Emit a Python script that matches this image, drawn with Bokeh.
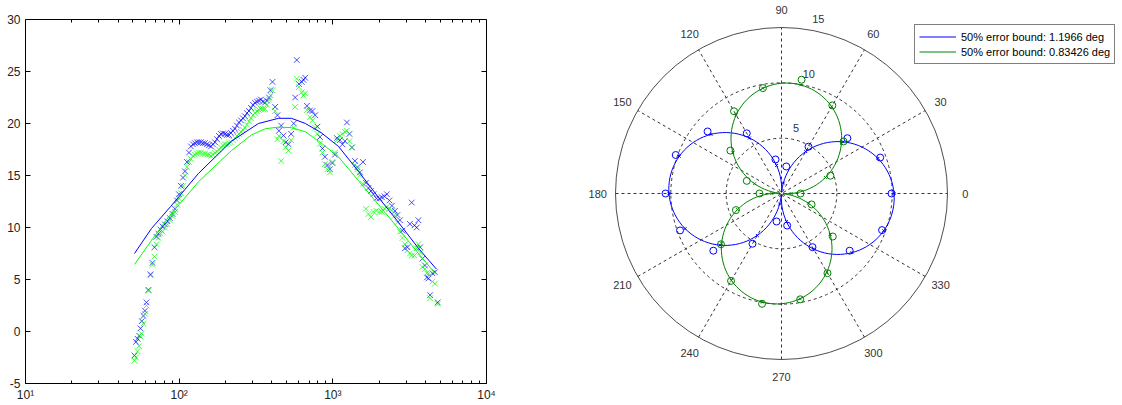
import math
from bokeh.plotting import figure
from bokeh.models import (Range1d, FixedTicker, LogAxis, LinearAxis, ColumnDataSource,
                          CustomJSTickFormatter, Legend, LegendItem, LabelSet)
from bokeh.layouts import row
from bokeh.embed import file_html
from bokeh.resources import INLINE
from bokeh.core.properties import value

# ---------------- data: left panel (frequency response) ----------------
freq_hz = [51.2, 52.4, 53.6, 54.9, 56.0, 57.1, 58.6, 59.9, 61.3, 63.1,
           65.1, 67.0, 69.1, 71.2, 73.3, 75.6, 77.9, 80.8, 83.9, 87.1,
           90.5, 93.9, 96.8, 99.7, 102.7, 105.9, 109.1, 112.4, 115.8, 119.3,
           123.0, 126.7, 130.6, 134.5, 138.6, 142.8, 147.2, 151.7, 156.3, 161.0,
           165.9, 171.0, 176.2, 181.5, 187.1, 192.8, 198.6, 204.6, 210.9, 217.3,
           223.9, 230.7, 237.7, 245.0, 252.4, 260.1, 268.0, 276.2, 284.6, 293.2,
           302.1, 311.3, 320.8, 330.6, 340.6, 351.0, 361.7, 372.7, 384.0, 392.7,
           404.7, 421.3, 436.1, 446.0, 461.0, 477.1, 493.8, 514.2, 535.4, 556.7,
           568.5, 582.3, 601.8, 627.6, 643.8, 660.4, 678.5, 709.7, 736.8, 767.2,
           794.1, 824.4, 855.9, 888.6, 922.4, 957.6, 994.0, 1032, 1063, 1112,
           1155, 1199, 1235, 1283, 1331, 1392, 1446, 1501, 1570, 1642,
           1705, 1770, 1838, 1922, 2010, 2087, 2167, 2249, 2335, 2424,
           2535, 2632, 2733, 2837, 2945, 3058, 3174, 3261, 3396, 3515,
           3606, 3698, 3828, 3974, 4095, 4188, 4296, 4447, 4617, 4815]

blue_meas = [-2.3, -1.0, -0.7, -0.4, 0.3, 1.0, 1.5, 2.0, 2.8, 4.0,
             5.5, 6.6, 8.1, 9.1, 9.4, 9.8, 10.1, 10.3, 10.6, 10.9,
             11.3, 11.8, 12.6, 13.2, 14.0, 14.8, 15.4, 16.3, 17.2, 17.8,
             18.0, 18.1, 18.2, 18.2, 18.2, 18.1, 18.1, 18.0, 17.9, 17.8,
             18.0, 18.2, 18.5, 18.8, 19.0, 19.05, 19.0, 18.9, 18.9, 19.1,
             19.3, 19.5, 19.8, 20.1, 20.3, 20.5, 20.7, 21.0, 21.2, 21.5,
             21.8, 22.0, 22.1, 22.2, 22.3, 22.1, 22.0, 22.2, 22.5, 23.2,
             24.0, 21.6, 20.8, 19.3, 19.8, 18.85, 18.2, 18.0, 19.0, 20.0,
             22.5, 26.1, 23.8, 24.0, 24.2, 24.4, 21.7, 21.25, 21.2, 20.8,
             19.7, 18.7, 17.6, 16.8, 16.0, 15.6, 16.2, 17.0, 18.6, 18.4,
             18.0, 18.3, 20.1, 19.0, 17.7, 16.4, 15.8, 15.3, 16.3, 14.3,
             13.8, 13.5, 13.2, 12.8, 12.8, 12.9, 13.0, 13.2, 12.6, 12.1,
             11.6, 11.2, 10.7, 9.7, 8.0, 8.1, 10.35, 12.4, 10.2, 10.0,
             10.7, 8.1, 7.0, 6.35, 5.2, 5.1, 3.5, 5.6, 5.7, 2.8]

green_meas = [-2.8, -2.5, -1.9, -1.4, -0.5, -0.2, 0.75, 1.7, 2.5, 3.9,
              5.4, 6.4, 7.2, 8.4, 9.0, 9.4, 9.6, 10.0, 10.3, 10.7,
              11.1, 11.5, 12.2, 12.8, 13.3, 14.0, 15.0, 15.8, 16.3, 16.6,
              16.9, 17.0, 17.1, 17.2, 17.2, 17.1, 17.1, 17.0, 17.0, 16.9,
              17.0, 17.2, 17.3, 17.5, 17.7, 17.9, 18.0, 18.0, 18.1, 18.2,
              18.4, 18.6, 18.8, 19.0, 19.2, 19.4, 19.6, 19.9, 20.2, 20.5,
              20.8, 21.0, 21.2, 21.3, 21.4, 21.4, 21.4, 21.8, 22.3, 22.7,
              23.2, 21.2, 18.5, 18.8, 16.4, 18.3, 17.7, 17.4, 18.4, 19.6,
              21.6, 24.3, 23.5, 23.0, 22.7, 22.9, 21.3, 20.6, 20.3, 19.6,
              19.0, 18.05, 17.2, 16.1, 15.6, 15.3, 16.3, 17.2, 18.4, 18.8,
              19.0, 19.2, 19.3, 18.3, 17.7, 16.0, 15.6, 15.0, 14.2, 11.8,
              11.3, 11.0, 11.5, 11.6, 11.5, 11.5, 11.8, 12.0, 11.8, 11.65,
              11.15, 10.5, 9.6, 9.0, 8.4, 7.8, 7.5, 7.3, 7.3, 8.0,
              8.4, 7.6, 6.2, 6.0, 5.6, 5.55, 3.2, 4.8, 4.6, 2.65]

blue_fit_hz = [51.2, 66.0, 87.8, 133.6, 218.9, 328.0, 442.8, 537.8,
               663.4, 843.0, 1087.5, 1468, 1980, 2672, 3606, 4722]
blue_fit_val = [7.5, 9.9, 12.0, 15.2, 18.3, 20.0, 20.5, 20.5,
                20.0, 19.1, 17.8, 15.4, 12.9, 10.5, 8.0, 6.0]

green_fit_hz = [51.2, 66.0, 85.2, 133.6, 218.9, 295.4, 364.3, 442.8, 537.8,
                663.4, 843.0, 1087.5, 1468, 1980, 2672, 3606, 4651]
green_fit_val = [6.45, 8.75, 11.0, 14.4, 17.4, 18.9, 19.5, 19.65, 19.6,
                 19.2, 18.1, 16.8, 14.5, 12.2, 9.9, 7.5, 5.55]

x_major = [10, 100, 1000, 10000]
y_major = [-5, 0, 5, 10, 15, 20, 25, 30]

# ---------------- data: right panel (polar) ----------------
angles_deg = [0, 20, 40, 60, 80, 100, 120, 140, 160,
              180, 200, 220, 240, 260, 280, 300, 320, 340]
blue_r = [9.94, 9.49, 7.77, 4.88, 2.48, 3.12, 6.28, 8.72, 10.17,
          10.48, 9.76, 8.04, 5.24, 2.57, 2.94, 5.60, 8.04, 9.67]
green_r = [1.72, 4.70, 7.32, 9.19, 10.44, 9.67, 8.58, 6.03, 3.34,
           1.99, 4.38, 7.14, 9.12, 10.12, 9.71, 8.31, 6.05, 2.89]
blue_fit_diam, blue_fit_rot = 10.2, 4.6      # r = d*|cos(theta + rot)|
green_fit_diam, green_fit_rot = 10.0, 5.0    # r = d*|sin(theta + rot)|
ring_values = [5, 10, 15]
spoke_angles = [0, 30, 60, 90, 120, 150, 180, 210, 240, 270, 300, 330]
legend_labels = ["50% error bound: 1.1966 deg", "50% error bound: 0.83426 deg"]

FONT = "Liberation Sans"
TXT = "#222222"

# layout constants (pixels); the row aligns both frames: 0..383
HEIGHT, BOTTOM = 405, 22
FH = HEIGHT - BOTTOM          # frame height of both figures
PX_PER_UNIT_Y = 364 / 35.0    # left panel: -5..30 spans 364 px
BOX_TOP_PX = 19               # the axes box starts 19 px below the top

# ================= left figure =================
p = figure(x_axis_type="log", x_range=Range1d(10, 10000),
           y_range=Range1d(-5, 30 + BOX_TOP_PX / PX_PER_UNIT_Y),
           frame_width=461, frame_height=FH,
           min_border_left=25, min_border_right=54, min_border_top=0, min_border_bottom=BOTTOM,
           output_backend="svg", toolbar_location=None)
p.xgrid.visible = False
p.ygrid.visible = False
p.outline_line_color = None
p.background_fill_color = "white"

minor = [m * d for d in [10, 100, 1000] for m in range(2, 10)]
xticker = FixedTicker(ticks=x_major, minor_ticks=minor)
yticker = FixedTicker(ticks=y_major, minor_ticks=[])
sup_fmt = CustomJSTickFormatter(code="""
const e = Math.round(Math.log10(tick));
const sup = {1: '\u00b9', 2: '\u00b2', 3: '\u00b3', 4: '\u2074'};
return '10' + (sup[e] || '');
""")


def style_axis(ax, labels=True):
    ax.axis_line_color = "black"
    ax.major_tick_line_color = "black"
    ax.minor_tick_line_color = "black"
    ax.major_tick_in = 5
    ax.major_tick_out = 0
    ax.minor_tick_in = 3
    ax.minor_tick_out = 0
    if labels:
        ax.major_label_text_font = FONT
        ax.major_label_text_font_size = "12px"
        ax.major_label_text_color = TXT
    else:
        ax.major_label_text_font_size = "1px"
        ax.major_label_text_alpha = 0
        ax.major_label_standoff = 0


xb = p.xaxis[0]
xb.ticker = xticker
xb.formatter = sup_fmt
style_axis(xb)
xb.major_label_standoff = 4

yl = p.yaxis[0]
yl.ticker = yticker
yl.bounds = (-5, 30)
yl.major_label_overrides = {v: str(v) for v in y_major}
style_axis(yl)
yl.major_label_standoff = 5

xt = LogAxis(ticker=xticker, fixed_location=30)
style_axis(xt, labels=False)
p.add_layout(xt, "above")
yr = LinearAxis(ticker=yticker, bounds=(-5, 30))
style_axis(yr, labels=False)
p.add_layout(yr, "right")

p.scatter(freq_hz, blue_meas, marker="x", size=8, line_color="blue", line_alpha=0.7, line_width=1)
p.scatter(freq_hz, green_meas, marker="x", size=8, line_color="#00ff00", line_alpha=0.7, line_width=1)
p.line(blue_fit_hz, blue_fit_val, line_color="blue", line_width=1)
p.line(green_fit_hz, green_fit_val, line_color="#00ff00", line_width=1)

# ================= right figure (polar) =================
W = 578
cx, cy = 241, 193            # centre in frame pixels (from frame top-left)
s = 166 / 15.0               # pixels per radial unit
q = figure(width=W, height=HEIGHT,
           x_range=Range1d(-cx / s, (W - cx) / s), y_range=Range1d(-(FH - cy) / s, cy / s),
           x_axis_location=None, y_axis_location=None,
           min_border_left=0, min_border_right=0, min_border_top=0, min_border_bottom=BOTTOM,
           output_backend="svg", toolbar_location=None)
q.outline_line_color = None
q.grid.visible = False

rmax = ring_values[-1]
for rv in ring_values[:-1]:
    q.circle(0, 0, radius=rv, fill_color=None, line_color="#333333",
             line_dash="3 3", line_width=1)
q.circle(0, 0, radius=rmax, fill_color=None, line_color="#4d4d4d", line_width=1)

sx0, sy0, sx1, sy1 = [], [], [], []
for a in spoke_angles[:6]:
    c, sn = math.cos(math.radians(a)), math.sin(math.radians(a))
    sx0.append(-rmax * c); sy0.append(-rmax * sn)
    sx1.append(rmax * c); sy1.append(rmax * sn)
q.segment(sx0, sy0, sx1, sy1, line_color="#333333", line_dash="3 3", line_width=1)

lab_r = 16.6
ang_src = ColumnDataSource(dict(
    x=[lab_r * math.cos(math.radians(a)) for a in spoke_angles],
    y=[lab_r * math.sin(math.radians(a)) for a in spoke_angles],
    text=[str(a) for a in spoke_angles]))
q.add_layout(LabelSet(x="x", y="y", text="text", source=ang_src,
                      text_align="center", text_baseline="middle",
                      text_font=value(FONT), text_font_size="11px", text_color="#333333"))
ra = math.radians(80)
rad_src = ColumnDataSource(dict(
    x=[(rv + 1) * math.cos(ra) for rv in ring_values],
    y=[(rv + 1) * math.sin(ra) for rv in ring_values],
    text=[str(rv) for rv in ring_values]))
q.add_layout(LabelSet(x="x", y="y", text="text", source=rad_src,
                      text_align="left", text_baseline="middle",
                      text_font=value(FONT), text_font_size="11px", text_color="#333333"))

# fitted curves
th = list(range(0, 361, 2))
bfx, bfy, gfx, gfy = [], [], [], []
for t in th:
    rb = blue_fit_diam * abs(math.cos(math.radians(t + blue_fit_rot)))
    rg = green_fit_diam * abs(math.sin(math.radians(t + green_fit_rot)))
    bfx.append(rb * math.cos(math.radians(t))); bfy.append(rb * math.sin(math.radians(t)))
    gfx.append(rg * math.cos(math.radians(t))); gfy.append(rg * math.sin(math.radians(t)))
blue_line = q.line(bfx, bfy, line_color="blue", line_width=1)
green_line = q.line(gfx, gfy, line_color="#008000", line_width=1)

# fitted values at measurement angles (small marks on curves)
bpx, bpy, gpx, gpy = [], [], [], []
for t in angles_deg:
    rb = blue_fit_diam * abs(math.cos(math.radians(t + blue_fit_rot)))
    rg = green_fit_diam * abs(math.sin(math.radians(t + green_fit_rot)))
    bpx.append(rb * math.cos(math.radians(t))); bpy.append(rb * math.sin(math.radians(t)))
    gpx.append(rg * math.cos(math.radians(t))); gpy.append(rg * math.sin(math.radians(t)))
q.scatter(bpx, bpy, marker="x", size=4, line_color="blue", line_width=1)
q.scatter(gpx, gpy, marker="x", size=4, line_color="#008000", line_width=1)

# measured points
q.scatter([r * math.cos(math.radians(a)) for r, a in zip(blue_r, angles_deg)],
          [r * math.sin(math.radians(a)) for r, a in zip(blue_r, angles_deg)],
          marker="circle", size=7, fill_color=None, line_color="blue", line_width=1)
q.scatter([r * math.cos(math.radians(a)) for r, a in zip(green_r, angles_deg)],
          [r * math.sin(math.radians(a)) for r, a in zip(green_r, angles_deg)],
          marker="circle", size=7, fill_color=None, line_color="#008000", line_width=1)

legend = Legend(items=[LegendItem(label=legend_labels[0], renderers=[blue_line]),
                       LegendItem(label=legend_labels[1], renderers=[green_line])],
                location=(374, 319), orientation="vertical",
                border_line_color="black", border_line_width=1,
                background_fill_color="white", background_fill_alpha=1.0,
                padding=4, spacing=0, margin=0, glyph_width=37, glyph_height=15,
                label_height=15, label_standoff=5,
                label_text_font=FONT, label_text_font_size="11px", label_text_color="black")
q.add_layout(legend)

layout = row(p, q)
open("out.html", "w").write(file_html(layout, INLINE))
